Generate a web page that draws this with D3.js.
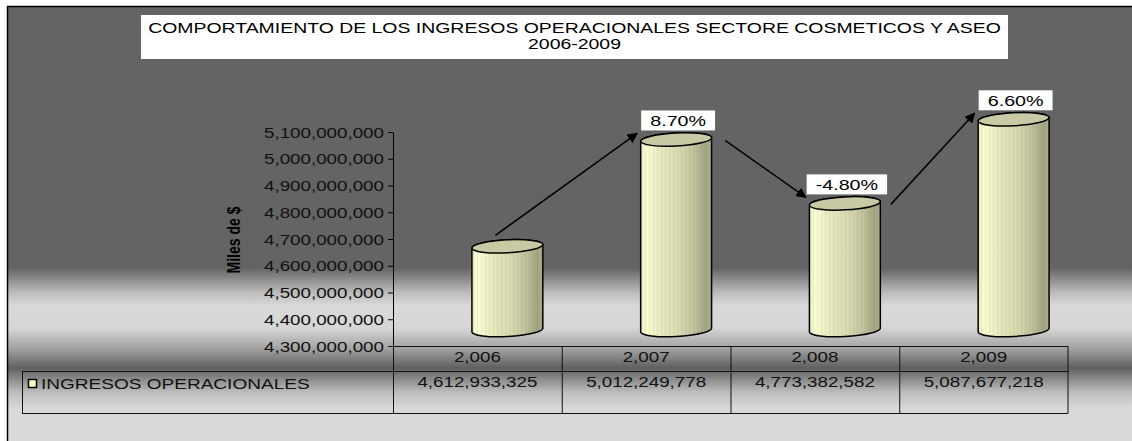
<!DOCTYPE html>
<html>
<head>
<meta charset="utf-8">
<script src="https://cdn.jsdelivr.net/npm/d3@7"></script>
<style>
body { margin: 0; background: #fff; }
svg { display: block; font-family: "Liberation Sans", Arial, sans-serif; }
</style>
</head>
<body>
<script>
// data
var years = ["2,006", "2,007", "2,008", "2,009"];
var ingresos = [4612933325, 5012249778, 4773382582, 5087677218];
var growthLabels = ["8.70%", "-4.80%", "6.60%"];
var yTicks = [4300000000, 4400000000, 4500000000, 4600000000, 4700000000,
              4800000000, 4900000000, 5000000000, 5100000000];
var seriesName = "INGRESOS OPERACIONALES";
var titleLines = ["COMPORTAMIENTO DE LOS INGRESOS OPERACIONALES SECTORE COSMETICOS Y ASEO", "2006-2009"];
var yTitle = "Miles de $";

var w = 1132, h = 441;
var SX = 1.36;        // the original picture is stretched sideways
var depthX = 30, depthY = 16; // 3d shift of the cylinders

var svg = d3.select("body").append("svg")
  .attr("width", w)
  .attr("height", h);

var defs = svg.append("defs");

// background bands
var bg = defs.append("linearGradient")
  .attr("id", "bg")
  .attr("gradientUnits", "userSpaceOnUse")
  .attr("x1", 0).attr("y1", 6).attr("x2", 0).attr("y2", 441);
[[6, "#646464"], [268, "#646464"], [292, "#bababa"], [306, "#d9d9d9"], [328, "#d6d6d6"],
 [348, "#a4a4a4"], [368, "#606060"], [392, "#bcbcbc"], [408, "#d9d9d9"], [441, "#d9d9d9"]]
  .forEach(function (s) {
    bg.append("stop").attr("offset", (s[0] - 6) / 435).attr("stop-color", s[1]);
  });

// cylinder body shading
var cyl = defs.append("linearGradient").attr("id", "cyl")
  .attr("x1", 0).attr("x2", 1).attr("y1", 0).attr("y2", 0);
[[0, "#ecebc0"], [0.08, "#fdfdd3"], [0.3, "#e8e8bf"], [0.55, "#d9d9b1"],
 [0.78, "#bdbd98"], [0.92, "#a3a382"], [1, "#adad8c"]].forEach(function (s) {
  cyl.append("stop").attr("offset", s[0]).attr("stop-color", s[1]);
});
var stripes = defs.append("pattern").attr("id", "stripes")
  .attr("patternUnits", "userSpaceOnUse")
  .attr("width", 4).attr("height", 10);
stripes.append("rect").attr("x", 1).attr("width", 0.8).attr("height", 10)
  .attr("fill", "#6b6b40").attr("opacity", 0.12);

defs.append("marker").attr("id", "head")
  .attr("viewBox", "0 0 10 10").attr("refX", 9).attr("refY", 5)
  .attr("markerWidth", 7).attr("markerHeight", 7)
  .attr("orient", "auto")
  .append("path").attr("d", "M0,0L10,5L0,10z").attr("fill", "#000");

// chart area
svg.append("rect")
  .attr("x", 7).attr("y", 6)
  .attr("width", w).attr("height", h)
  .attr("fill", "url(#bg)");
svg.append("path")
  .attr("d", "M7.5," + h + "V6.5H" + w)
  .attr("fill", "none").attr("stroke", "#000").attr("stroke-width", 1.5);

function stretched(g, x, y) {
  return g.append("text").attr("transform", "translate(" + x + "," + y + ") scale(" + SX + ",1)");
}

// title
svg.append("rect").attr("x", 141).attr("y", 15).attr("width", 867).attr("height", 44).attr("fill", "#fff");
titleLines.forEach(function (t, i) {
  stretched(svg, 574.5, 33 + i * 16)
    .attr("text-anchor", "middle")
    .attr("font-size", 14.3)
    .attr("fill", "#000")
    .text(t);
});

var x = d3.scaleBand().domain(years).range([393, 1068]);
var y = d3.scaleLinear().domain([4300000000, 5100000000]).range([346, 132]);

// y axis
var yAxis = svg.append("g")
  .attr("transform", "translate(393,0)")
  .call(d3.axisLeft(y).tickValues(yTicks).tickSize(5).tickSizeOuter(0).tickFormat(d3.format(",")));
yAxis.select(".domain").attr("stroke", "#000");
yAxis.selectAll(".tick line").attr("stroke", "#000");
yAxis.selectAll(".tick text")
  .attr("x", null)
  .attr("dy", null)
  .attr("transform", "translate(-9,5) scale(" + SX + ",1)")
  .attr("font-size", 13.8)
  .attr("font-family", "Liberation Sans, Arial, sans-serif")
  .attr("fill", "#111");

svg.append("text")
  .attr("transform", "translate(240,240) scale(" + SX + ",1) rotate(-90)")
  .attr("text-anchor", "middle")
  .attr("font-size", 14)
  .attr("font-weight", "bold")
  .attr("fill", "#000")
  .text(yTitle);

// cylinders
var rx = 35.5, ry = 6.5, tilt = 3;
var tr = tilt * Math.PI / 180;
var base = y(4300000000) - depthY;

var cyls = ingresos.map(function (v, i) {
  return {
    cx: x(years[i]) + x.bandwidth() / 2 + depthX,
    top: y(v) - depthY,
    bot: base
  };
});

var cg = svg.append("g");
cyls.forEach(function (c) {
  var lx = c.cx - rx * Math.cos(tr), rxp = c.cx + rx * Math.cos(tr);
  var dl = rx * Math.sin(tr);
  var body = "M" + lx + "," + (c.top + dl) +
    "L" + lx + "," + (c.bot + dl) +
    "A" + rx + "," + ry + " " + (-tilt) + " 0 0 " + rxp + "," + (c.bot - dl) +
    "L" + rxp + "," + (c.top - dl) +
    "A" + rx + "," + ry + " " + (-tilt) + " 0 0 " + lx + "," + (c.top + dl) + "Z";
  cg.append("path").attr("d", body).attr("fill", "url(#cyl)");
  cg.append("path").attr("d", body).attr("fill", "url(#stripes)");
  cg.append("path").attr("d", body).attr("fill", "none").attr("stroke", "#000").attr("stroke-width", 1.5);
  cg.append("ellipse")
    .attr("cx", c.cx).attr("cy", c.top)
    .attr("rx", rx).attr("ry", ry)
    .attr("transform", "rotate(" + (-tilt) + "," + c.cx + "," + c.top + ")")
    .attr("fill", "#c9c9a3")
    .attr("stroke", "#000").attr("stroke-width", 1.5);
});

// growth arrows and labels
var arrowStart = [[-12, -11], [49, 1], [46, 1]];
growthLabels.forEach(function (lab, i) {
  var a = cyls[i], b = cyls[i + 1];
  svg.append("line")
    .attr("x1", a.cx + arrowStart[i][0]).attr("y1", a.top + arrowStart[i][1])
    .attr("x2", b.cx - 39).attr("y2", b.top - 6)
    .attr("stroke", "#000").attr("stroke-width", 1.5)
    .attr("marker-end", "url(#head)");
  var lg = svg.append("g");
  var t = stretched(lg, b.cx + 2, b.top - 13.5)
    .attr("text-anchor", "middle")
    .attr("font-size", 14.5)
    .attr("fill", "#000")
    .text(lab);
  var tw = t.node().getComputedTextLength() * SX;
  lg.insert("rect", "text")
    .attr("x", b.cx + 2 - tw / 2 - 9).attr("y", b.top - 29)
    .attr("width", tw + 18).attr("height", 20)
    .attr("fill", "#fff");
});

// data table
var tg = svg.append("g").attr("stroke", "#111").attr("stroke-width", 1).attr("fill", "none");
tg.append("line").attr("x1", 388).attr("x2", 1068).attr("y1", 346.5).attr("y2", 346.5);
tg.append("line").attr("x1", 22).attr("x2", 1068).attr("y1", 371.5).attr("y2", 371.5);
tg.append("line").attr("x1", 22).attr("x2", 1068).attr("y1", 413.5).attr("y2", 413.5);
tg.append("line").attr("x1", 22.5).attr("x2", 22.5).attr("y1", 371.5).attr("y2", 413.5);
years.forEach(function (yr) {
  tg.append("line").attr("x1", x(yr) + 0.5).attr("x2", x(yr) + 0.5).attr("y1", 346).attr("y2", 413.5);
});
tg.append("line").attr("x1", 1068).attr("x2", 1068).attr("y1", 346).attr("y2", 413.5);

years.forEach(function (yr, i) {
  var cx = x(yr) + x.bandwidth() / 2;
  stretched(svg, cx, 362).attr("text-anchor", "middle").attr("font-size", 13.8).attr("fill", "#111").text(yr);
  stretched(svg, cx, 387).attr("text-anchor", "middle").attr("font-size", 13.8).attr("fill", "#111")
    .text(d3.format(",")(ingresos[i]));
});

svg.append("rect").attr("x", 28.5).attr("y", 379.5).attr("width", 8).attr("height", 8)
  .attr("fill", "#ffffc8").attr("stroke", "#000").attr("stroke-width", 1.5);
stretched(svg, 41, 389).attr("font-size", 14).attr("fill", "#111").text(seriesName);
</script>
</body>
</html>
